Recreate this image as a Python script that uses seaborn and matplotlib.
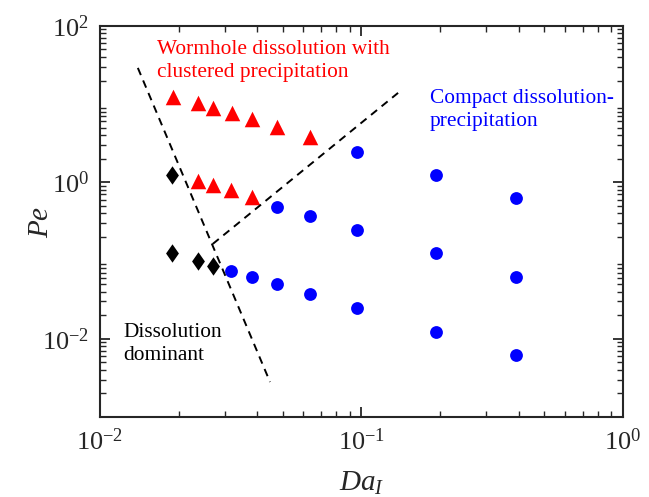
import numpy as np
import pandas as pd
import matplotlib
matplotlib.use("Agg")
import matplotlib.pyplot as plt
import seaborn as sns
from matplotlib.ticker import LogLocator, NullFormatter

# ---- data ----
wormhole_da = [0.0190, 0.0237, 0.0270, 0.0320, 0.0381, 0.0475, 0.0635,
               0.0237, 0.0270, 0.0317, 0.0381]
wormhole_pe = [12.4, 10.4, 8.9, 7.7, 6.5, 5.1, 3.8,
               1.04, 0.93, 0.80, 0.65]

dissol_da = [0.0189, 0.0189, 0.0237, 0.0270]
dissol_pe = [1.24, 0.125, 0.099, 0.085]

compact_da = [0.0317, 0.0381, 0.0475, 0.0475, 0.0636, 0.0636,
              0.0961, 0.0961, 0.0961, 0.193, 0.193, 0.193, 0.390, 0.390, 0.390]
compact_pe = [0.074, 0.062, 0.48, 0.050, 0.37, 0.037,
              2.45, 0.246, 0.025, 1.24, 0.125, 0.0122, 0.63, 0.062, 0.0062]

boundary1_da = [0.01396, 0.0447]
boundary1_pe = [29.0, 0.0028]
boundary2_da = [0.0270, 0.138]
boundary2_pe = [0.163, 13.9]

xticks = [1e-2, 1e-1, 1e0]
yticks = [1e-2, 1e0, 1e2]

sns.set_theme(style="white")
plt.rcParams["font.family"] = ["Liberation Serif", "DejaVu Serif"]
plt.rcParams["mathtext.fontset"] = "custom"
plt.rcParams["mathtext.rm"] = "Liberation Serif"
plt.rcParams["mathtext.it"] = "Liberation Serif:italic"

fig = plt.figure(figsize=(6.49, 4.97), dpi=100)
ax = fig.add_axes([0.154, 0.161, 0.806, 0.787])

df_w = pd.DataFrame({"Da": wormhole_da, "Pe": wormhole_pe})
df_d = pd.DataFrame({"Da": dissol_da, "Pe": dissol_pe})
df_c = pd.DataFrame({"Da": compact_da, "Pe": compact_pe})

diamond = [(0, 1), (0.7, 0), (0, -1), (-0.7, 0), (0, 1)]

sns.scatterplot(data=df_w, x="Da", y="Pe", marker="^", color="#ff0000",
                s=125, linewidth=0, ax=ax)
sns.scatterplot(data=df_d, x="Da", y="Pe", marker=diamond, color="black",
                s=175, linewidth=0, ax=ax)
sns.scatterplot(data=df_c, x="Da", y="Pe", marker="o", color="#0000ff",
                s=85, linewidth=0, ax=ax)

ax.plot(boundary1_da, boundary1_pe, linestyle=(0, (4, 3)), color="black", lw=1.4)
ax.plot(boundary2_da, boundary2_pe, linestyle=(0, (4, 3)), color="black", lw=1.4)

ax.set_xscale("log")
ax.set_yscale("log")
ax.set_xlim(1e-2, 1e0)
ax.set_ylim(1e-3, 1e2)
ax.set_xticks(xticks)
ax.set_yticks(yticks)
ax.xaxis.set_minor_locator(LogLocator(base=10, subs=np.arange(2, 10)))
ax.yaxis.set_minor_locator(LogLocator(base=10, subs=np.arange(2, 10)))
ax.xaxis.set_minor_formatter(NullFormatter())
ax.yaxis.set_minor_formatter(NullFormatter())

ax.tick_params(which="both", direction="in", top=True, right=True,
               bottom=True, left=True,
               colors="#262626", labelcolor="#262626")
ax.tick_params(which="major", length=7, width=1.3, labelsize=19, pad=8)
ax.tick_params(which="minor", length=4, width=1.0)
for sp in ax.spines.values():
    sp.set_visible(True)
    sp.set_color("#262626")
    sp.set_linewidth(1.5)

ax.set_xlabel("$Da_I$", fontsize=21, color="#262626")
ax.set_ylabel("$Pe$", fontsize=21, color="#262626")
ax.xaxis.set_label_coords(0.5, -0.135)
ax.yaxis.set_label_coords(-0.088, 0.5)

ax.text(0.109, 0.963, "Wormhole dissolution with\nclustered precipitation",
        transform=ax.transAxes, color="#ff0000", fontsize=15.4, va="top",
        ha="left", linespacing=1.28)
ax.text(0.631, 0.838, "Compact dissolution-\nprecipitation",
        transform=ax.transAxes, color="#0000ff", fontsize=15.4, va="top",
        ha="left", linespacing=1.28)
ax.text(0.044, 0.24, "Dissolution\ndominant",
        transform=ax.transAxes, color="black", fontsize=15.4, va="top",
        ha="left", linespacing=1.28)

fig.savefig("out.png", dpi=100)
